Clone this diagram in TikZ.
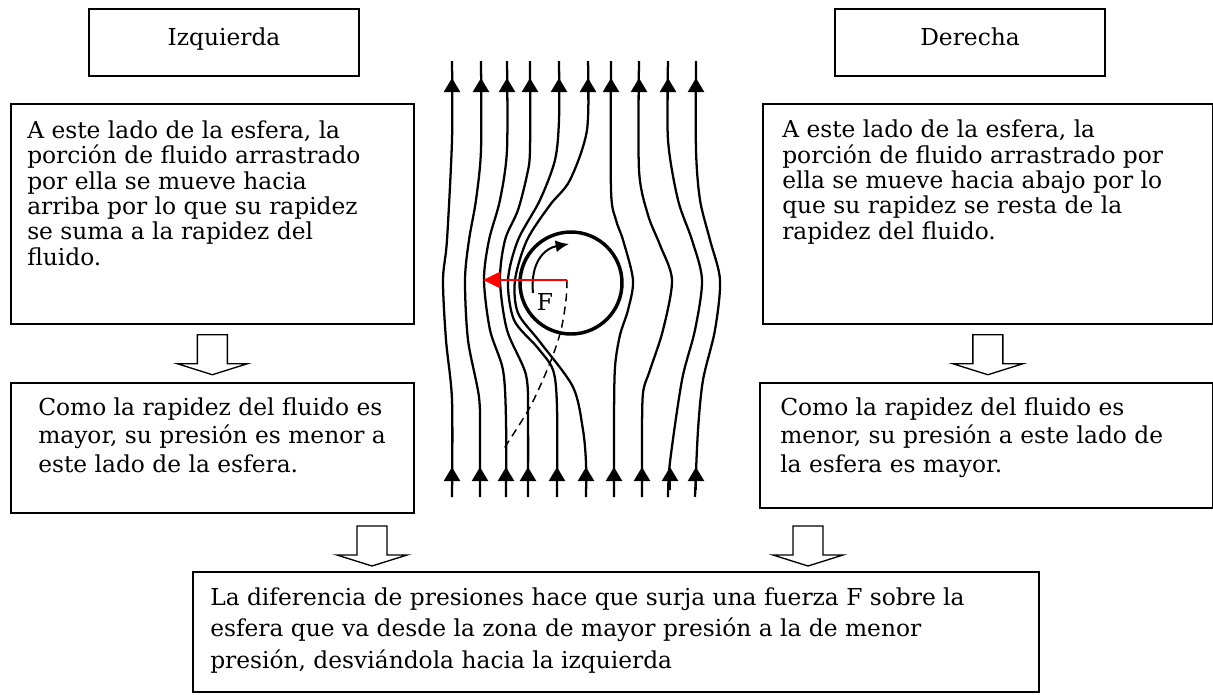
\documentclass[tikz,border=0pt]{standalone}
\usepackage{fontspec}
\setmainfont{DejaVu Serif}
\usetikzlibrary{arrows.meta, positioning}

\begin{document}
\begin{tikzpicture}[x=0.75pt, y=-0.75pt,
        caja/.style={shape = rectangle, draw = black, line width=1.3pt, inner sep=0pt},
        texto/.style={align=left, inner sep=0pt, anchor=base west, font=\fontsize{17.5}{19}\selectfont},
        titulo/.style={inner sep=0pt, anchor=base, font=\fontsize{17.5}{19}\selectfont},
        linea/.style={line width=1.7pt},
        punta/.style={line width=1.7pt, -{Triangle[length=10.5pt, width=12pt]}},
        flecha/.pic={\draw[line width=1pt] (-15,0) -- (-15,29) -- (-35,29) -- (0,40) -- (35,29) -- (15,29) -- (15,0) -- cycle;}]
    \useasboundingbox (0,0) rectangle (1213,694);

    \node [caja, minimum width=202.5pt, minimum height=50.25pt] (izq) at (224,42.5) {};
    \node [titulo] (izqtitulo) at (224,45) {Izquierda};
    \node [caja, minimum width=202.5pt, minimum height=50.25pt] (der) at (970,42.5) {};
    \node [titulo] (dertitulo) at (970,45) {Derecha};

    % el texto se ancla en la base de su ultima linea
    \node [caja, minimum width=302.25pt, minimum height=165pt, anchor=north west] (arrastreizq) at (10,103) {};
    \node [texto] at (27,265) {A este lado de la esfera, la\\porción de fluido arrastrado\\por ella se mueve hacia\\arriba por lo que su rapidez\\se suma a la rapidez del\\fluido.};
    \node [caja, minimum width=337.5pt, minimum height=165pt, anchor=north west] (arrastreder) at (762,103) {};
    \node [texto] at (782,239) {A este lado de la esfera, la\\porción de fluido arrastrado por\\ella se mueve hacia abajo por lo\\que su rapidez se resta de la\\rapidez del fluido.};

    \node [caja, minimum width=302.25pt, minimum height=97.5pt, anchor=north west] (presionizq) at (10,382) {};
    \node [texto, font=\fontsize{17.5}{21.2}\selectfont] at (38,472) {Como la rapidez del fluido es\\mayor, su presión es menor a\\este lado de la esfera.};
    \node [caja, minimum width=339.75pt, minimum height=93.75pt, anchor=north west] (presionder) at (759,382) {};
    \node [texto, font=\fontsize{17.5}{21.2}\selectfont] at (780,472) {Como la rapidez del fluido es\\menor, su presión a este lado de\\la esfera es mayor.};

    \node [caja, minimum width=634.5pt, minimum height=90pt, anchor=north west] (fuerza) at (192,571) {};
    \node [texto, font=\fontsize{17.5}{23.3}\selectfont] at (210,668) {La diferencia de presiones hace que surja una fuerza F sobre la\\esfera que va desde la zona de mayor presión a la de menor\\presión, desviándola hacia la izquierda};

    \pic at ([yshift=-7.5pt]arrastreizq.south) {flecha};
    \pic at ([yshift=-7.5pt]arrastreder.south) {flecha};
    \pic at (372,526) {flecha};
    \pic at (808,526) {flecha};

    % lineas de corriente
    \draw [linea] plot [smooth] coordinates {(452,61) (452,140) (447,240) (443,280) (446,340) (452,400) (452,497)};
    \draw [linea] plot [smooth] coordinates {(481,61) (481,150) (476,200) (469,240) (465,280) (468,340) (479,397) (480,440) (480,497)};
    \draw [linea] plot [smooth] coordinates {(507,61) (507,150) (500,200) (489,240) (484,280) (490,330) (503,370) (506,420) (506,497)};
    \draw [linea] plot [smooth] coordinates {(530,61) (530,150) (527,175) (518,210) (505,240) (500,280) (507,330) (526,375) (528,420) (528,497)};
    \draw [linea] plot [smooth] coordinates {(559,61) (559,120) (555,160) (540,200) (518,240) (508,280) (514,320) (537,347) (553,370) (557,407) (557,497)};
    \draw [linea] plot [smooth] coordinates {(588,61) (587,130) (570,180) (550,205) (527,240) (515,280) (518,313) (540,342) (573,387) (583,430) (586,463) (586,497)};
    \draw [linea] plot [smooth] coordinates {(611,61) (611,190) (616,220) (623,240) (633,280) (628,310) (620,335) (615,367) (614,420) (614,497)};
    \draw [linea] plot [smooth] coordinates {(639,61) (639,170) (648,215) (660,245) (672,280) (663,330) (650,370) (643,393) (642,440) (642,497)};
    \draw [linea] plot [smooth] coordinates {(668,61) (668,140) (678,200) (692,240) (702,280) (695,330) (682,380) (670,462) (668,497)};
    \draw [linea] plot [smooth] coordinates {(696,61) (696,150) (700,200) (710,240) (720,280) (715,330) (703,380) (698,430) (695,497)};
    \foreach \x in {452,481,507,530,559,588,611,639,668,696}
        \draw [punta] (\x,100) -- (\x,78);
    \foreach \x in {452,480,506,528,557,586,614,642,670,696}
        \draw [punta] (\x,490) -- (\x,467);

    \node [draw, circle, minimum size=76.5pt, inner sep=0pt, line width=2.6pt] (esfera) at (571,283) {};
    \coordinate (centro) at (567,280);
    \coordinate (puntaF) at (483,280);
    \draw [dashed, dash pattern=on 6pt off 4pt, line width=1.1pt] plot [smooth] coordinates {(centro) (566,300) (561,330) (550,363) (530,407) (503,450)};
    \draw [line width=1.5pt, -{Latex[length=10pt, width=9pt]}] (533,293) .. controls (530,262) and (545,248) .. (569,244);
    \draw [red, line width=2.2pt, -{Triangle[length=13pt, width=12pt]}] (centro) -- (puntaF);
    \node [font=\fontsize{17.5}{19}\selectfont, inner sep=0pt] (F) at (545,302) {F};
\end{tikzpicture}
\end{document}
